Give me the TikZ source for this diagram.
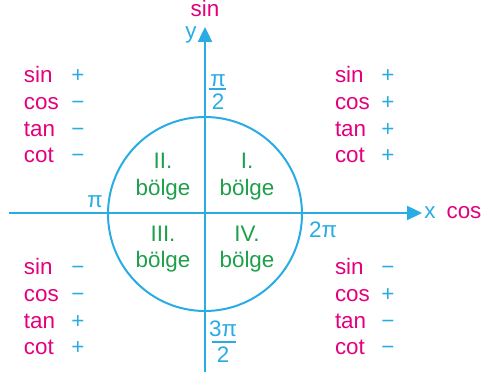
\documentclass[tikz,border=0pt]{standalone}
\usepackage{fontspec}
\setmainfont{Liberation Sans}
\usetikzlibrary{arrows.meta}
\definecolor{axblue}{RGB}{41,172,228}
\definecolor{fmag}{RGB}{228,0,125}
\definecolor{qgreen}{RGB}{30,160,75}
\begin{document}
\begin{tikzpicture}[x=0.5pt,y=-0.5pt,
  every node/.style={inner sep=0pt,outer sep=0pt,font=\fontsize{11.2}{13}\selectfont},
  axis/.style={draw=axblue,line width=1.2pt,-{Triangle[length=7.5pt,width=7pt]}},
  fn/.style={text=fmag,anchor=base west},
  sgn/.style={text=axblue,anchor=base},
  ang/.style={text=axblue,anchor=base},
  quad/.style={text=qgreen,anchor=base},
  bar/.style={draw=axblue,line width=1pt}]
\useasboundingbox (0,0) rectangle (482,378);
% axes
\coordinate (xl) at (9,213);
\coordinate (xr) at (422,213);
\coordinate (yb) at (205,372);
\coordinate (yt) at (205,27);
\draw[axis] (xl) -- (xr);
\draw[axis] (yb) -- (yt);
% circle
\node[draw=axblue,line width=1pt,circle,minimum size=97pt] (circ) at (205,214) {};
% axis labels
\node[text=fmag,anchor=base] (sinlab) at (205,17) {sin};
\node[text=axblue,anchor=base] (ylab) at (191,39) {y};
\node[text=axblue,anchor=base] (xlab) at (430,219) {x};
\node[text=fmag,anchor=base] (coslab) at (464,219) {cos};
% angles
\node[ang] (pihn) at (218,87) {π};
\draw[bar] (209,89.5) -- (226,89.5);
\node[ang] (pihd) at (218,110) {2};
\node[ang] (pi) at (95,208) {π};
\node[ang] (twopi) at (323,238) {2π};
\node[ang] (tpihn) at (223,337) {3π};
\draw[bar] (212,342) -- (236,342);
\node[ang] (tpihd) at (223,363) {2};
% quadrant labels
\node[quad] (q1a) at (247,169) {I.};
\node[quad] (q1b) at (247,196) {bölge};
\node[quad] (q2a) at (163,169) {II.};
\node[quad] (q2b) at (163,196) {bölge};
\node[quad] (q3a) at (163,242) {III.};
\node[quad] (q3b) at (163,268) {bölge};
\node[quad] (q4a) at (247,242) {IV.};
\node[quad] (q4b) at (247,268) {bölge};
% top left
\node[fn] (tls) at (24,83) {sin};  \node[sgn] (tlss) at (78,83) {+};
\node[fn] (tlc) at (24,110) {cos}; \node[sgn] (tlcs) at (78,110) {−};
\node[fn] (tlt) at (24,137) {tan}; \node[sgn] (tlts) at (78,137) {−};
\node[fn] (tlk) at (24,163) {cot}; \node[sgn] (tlks) at (78,163) {−};
% top right
\node[fn] (trs) at (335,83) {sin};  \node[sgn] (trss) at (388,83) {+};
\node[fn] (trc) at (335,110) {cos}; \node[sgn] (trcs) at (388,110) {+};
\node[fn] (trt) at (335,137) {tan}; \node[sgn] (trts) at (388,137) {+};
\node[fn] (trk) at (335,163) {cot}; \node[sgn] (trks) at (388,163) {+};
% bottom left
\node[fn] (bls) at (24,275) {sin};  \node[sgn] (blss) at (78,275) {−};
\node[fn] (blc) at (24,302) {cos}; \node[sgn] (blcs) at (78,302) {−};
\node[fn] (blt) at (24,329) {tan}; \node[sgn] (blts) at (78,329) {+};
\node[fn] (blk) at (24,355) {cot}; \node[sgn] (blks) at (78,355) {+};
% bottom right
\node[fn] (brs) at (335,275) {sin};  \node[sgn] (brss) at (388,275) {−};
\node[fn] (brc) at (335,302) {cos}; \node[sgn] (brcs) at (388,302) {+};
\node[fn] (brt) at (335,329) {tan}; \node[sgn] (brts) at (388,329) {−};
\node[fn] (brk) at (335,355) {cot}; \node[sgn] (brks) at (388,355) {−};
\end{tikzpicture}
\end{document}
